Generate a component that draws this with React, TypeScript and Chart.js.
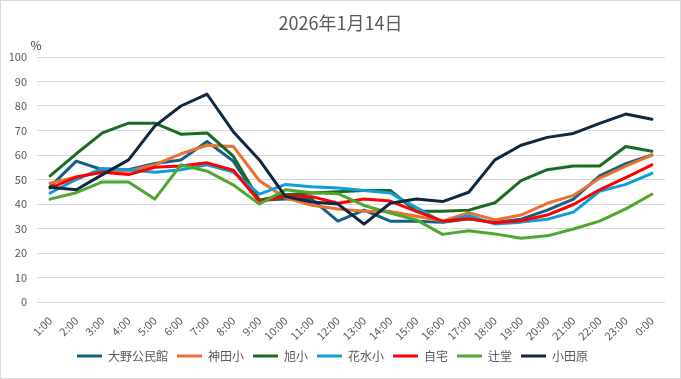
import React, { useEffect, useRef } from "react";
import { Chart, registerables } from "chart.js";

Chart.register(...registerables);

const hours = ["1:00","2:00","3:00","4:00","5:00","6:00","7:00","8:00","9:00","10:00","11:00","12:00","13:00","14:00","15:00","16:00","17:00","18:00","19:00","20:00","21:00","22:00","23:00","0:00"];

const seriesNames = ["大野公民館","神田小","旭小","花水小","自宅","辻堂","小田原"];
const seriesColors = ["#156082","#E97132","#196B24","#0F9ED5","#FF0000","#4EA72E","#0E2841"];

const onoKominkan = [47, 57.5, 54, 54, 56.5, 58, 65.5, 57.5, 41.5, 42, 42, 33, 37.5, 33, 33, 32.5, 34, 32.5, 33.8, 37.5, 42, 51.5, 56.5, 60];
const kandaSho = [48.5, 51, 53, 53.5, 56, 60.5, 64, 63.5, 49.5, 42.5, 39.5, 38, 37, 37, 35, 33, 36.5, 33.5, 35.5, 40.3, 43.5, 50.5, 55.5, 60];
const asahiSho = [51.5, 60.5, 69, 73, 73, 68.5, 69, 59.5, 41.5, 43.8, 44.5, 45, 45.5, 45.5, 37, 37, 37.5, 40.5, 49.5, 54, 55.5, 55.5, 63.5, 61.5];
const hanamizuSho = [44.5, 50, 54.5, 54, 53, 54, 56, 53, 44, 48, 47, 46.5, 45.5, 44.5, 38.5, 32.5, 35.3, 31.8, 32.6, 33.8, 36.7, 45.2, 48, 52.5];
const jitaku = [46.5, 51, 53, 52, 55, 55.5, 56.8, 53.8, 41, 43.3, 43, 40.3, 42, 41.2, 37, 33, 34, 32.3, 33.2, 35.5, 39.8, 45.8, 50.8, 56];
const tsujido = [42, 44.6, 49, 49, 42, 56, 53.4, 47.8, 40, 45.8, 44.6, 44.2, 39.4, 36.3, 33.5, 27.6, 29.1, 27.8, 26, 27, 29.8, 33, 38, 44];
const odawara = [46.8, 45.8, 52, 58, 71.8, 80, 84.8, 69.5, 58, 43, 40.8, 40, 31.8, 40.3, 42, 41, 44.8, 58, 64, 67.2, 68.8, 72.9, 76.7, 74.6];

const seriesValues = [onoKominkan, kandaSho, asahiSho, hanamizuSho, jitaku, tsujido, odawara];

const titleText = "2026年1月14日";
const unitText = "%";

const FONT = "'Noto Sans CJK JP', 'Noto Sans', sans-serif";
const GRAY = "#595959";

export default function App() {
  const ref = useRef<HTMLCanvasElement | null>(null);

  useEffect(() => {
    document.body.style.margin = "0";
    if (!ref.current) return;
    Chart.defaults.font.family = FONT;

    const framePlugin = {
      id: "frame",
      beforeDraw(chart: any) {
        const { ctx, width, height } = chart;
        ctx.save();
        ctx.fillStyle = "#ffffff";
        ctx.fillRect(0, 0, width, height);
        ctx.strokeStyle = "#d9d9d9";
        ctx.lineWidth = 1;
        ctx.strokeRect(0.5, 0.5, width - 1, height - 1);
        ctx.restore();
      },
      afterDraw(chart: any) {
        const { ctx, chartArea, width } = chart;
        ctx.save();
        ctx.fillStyle = GRAY;
        ctx.font = `18px ${FONT}`;
        ctx.textAlign = "center";
        ctx.textBaseline = "middle";
        ctx.fillText(titleText, width / 2, 23);
        ctx.fillStyle = "#404040";
        ctx.font = `12px ${FONT}`;
        ctx.fillText(unitText, chartArea.left - 1, chartArea.top - 12);
        ctx.restore();
      },
    };

    const chart = new Chart(ref.current, {
      type: "line",
      data: {
        labels: hours,
        datasets: seriesNames.map((name, i) => ({
          label: name,
          data: seriesValues[i],
          borderColor: seriesColors[i],
          backgroundColor: seriesColors[i],
          borderWidth: 3,
          pointRadius: 0,
          tension: 0,
          borderJoinStyle: "round" as const,
          borderCapStyle: "round" as const,
          order: seriesNames.length - i,
        })),
      },
      options: {
        responsive: false,
        animation: false,
        layout: { padding: { left: 0, right: 16, top: 57, bottom: 7 } },
        plugins: {
          title: { display: false },
          legend: {
            position: "bottom",
            labels: {
              usePointStyle: true,
              pointStyle: "line",
              pointStyleWidth: 25,
              color: GRAY,
              font: { size: 12, family: FONT },
              padding: 9,
              sort: (a: any, b: any) => a.datasetIndex - b.datasetIndex,
            },
          },
          tooltip: { enabled: false },
        },
        scales: {
          x: {
            offset: true,
            grid: { display: false, drawTicks: false },
            border: { display: false },
            ticks: {
              color: GRAY,
              font: { size: 11, family: FONT },
              minRotation: 45,
              maxRotation: 45,
              autoSkip: false,
              padding: 12,
            },
            afterFit: (scale: any) => {
              scale.height = 39;
            },
          },
          y: {
            min: 0,
            max: 100,
            grid: { color: "#d9d9d9", drawTicks: false, lineWidth: 1 },
            border: { display: false },
            ticks: {
              stepSize: 10,
              color: GRAY,
              font: { size: 11, family: FONT },
              padding: 10,
            },
            afterFit: (scale: any) => {
              scale.width = 37;
            },
          },
        },
      },
      plugins: [framePlugin],
    });

    return () => chart.destroy();
  }, []);

  return (
    <div style={{ width: 681, height: 379 }}>
      <canvas ref={ref} width={681} height={379} />
    </div>
  );
}
